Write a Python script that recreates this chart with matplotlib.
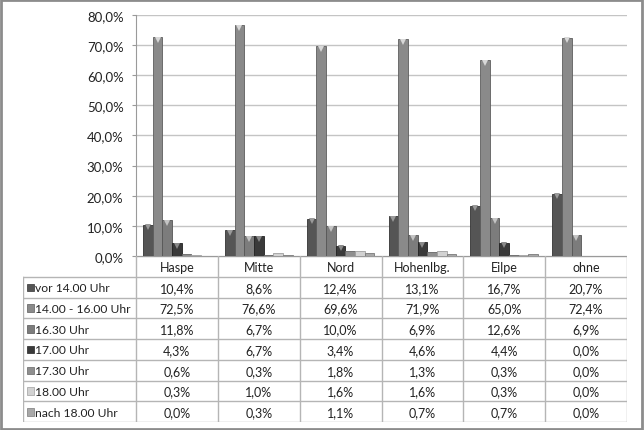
import matplotlib.pyplot as plt
import numpy as np
from matplotlib.patches import Rectangle

plt.rcParams['font.family'] = ['Lato', 'DejaVu Sans']

orte = ['Haspe', 'Mitte', 'Nord', 'Hohenlbg.', 'Eilpe', 'ohne']
zeiten = ['vor 14.00 Uhr', '14.00 - 16.00 Uhr', '16.30 Uhr', '17.00 Uhr',
          '17.30 Uhr', '18.00 Uhr', 'nach 18.00 Uhr']

vor_14 = [10.4, 8.6, 12.4, 13.1, 16.7, 20.7]
von_14_16 = [72.5, 76.6, 69.6, 71.9, 65.0, 72.4]
uhr_1630 = [11.8, 6.7, 10.0, 6.9, 12.6, 6.9]
uhr_1700 = [4.3, 6.7, 3.4, 4.6, 4.4, 0.0]
uhr_1730 = [0.6, 0.3, 1.8, 1.3, 0.3, 0.0]
uhr_1800 = [0.3, 1.0, 1.6, 1.6, 0.3, 0.0]
nach_18 = [0.0, 0.3, 1.1, 0.7, 0.7, 0.0]

werte = [vor_14, von_14_16, uhr_1630, uhr_1700, uhr_1730, uhr_1800, nach_18]
farben = ['#555555', '#8a8a8a', '#7c7c7c', '#3a3a3a', '#8f8f8f', '#d2d2d2', '#a8a8a8']
kanten = ['#333333', '#5e5e5e', '#555555', '#222222', '#666666', '#a0a0a0', '#7a7a7a']
spitzen = ['#9a9a9a', '#d8d8d8', '#c4c4c4', '#8a8a8a', '#cfcfcf', '#f0f0f0', '#dedede']
fs = 9


def fmt(v):
    return ('%.1f%%' % v).replace('.', ',')


W, H = 644, 431
fig = plt.figure(figsize=(W / 100, H / 100), dpi=100)

x_l, x_r = 136, 627
y_top, y_null = 15.7, 257
ax = fig.add_axes([x_l / W, 1 - y_null / H, (x_r - x_l) / W, (y_null - y_top) / H])

n = len(werte)
bw = 0.118
x = np.arange(len(orte))
for i, serie in enumerate(werte):
    pos = x + (i - (n - 1) / 2) * bw
    ax.bar(pos, serie, width=bw, color=farben[i], edgecolor=kanten[i],
           linewidth=0.6, zorder=3)
    sichtbar = [j for j, v in enumerate(serie) if v >= 3]
    ax.plot(pos[sichtbar], np.array(serie)[sichtbar] - 0.9, linestyle='none',
            marker='v', markersize=4.5, color=spitzen[i],
            markeredgewidth=0, zorder=4)

ax.set_xlim(-0.5, len(orte) - 0.5)
ax.set_ylim(0, 80)
ax.set_yticks(np.arange(0, 81, 10))
ax.set_yticklabels([fmt(v) for v in np.arange(0, 81, 10)], fontsize=fs + 0.5,
                   color='#222222')
ax.set_xticks([])
ax.yaxis.grid(True, color='#c4c4c4', linewidth=1)
ax.set_axisbelow(True)
for s in ['top', 'right', 'bottom']:
    ax.spines[s].set_visible(False)
ax.spines['left'].set_color('#9a9a9a')
ax.tick_params(axis='y', length=3, color='#9a9a9a', pad=6)

# data table below the plot
t_l, t_b = 23, 423
lab_w = (x_l - t_l) / ((x_r - x_l) / len(orte))
tax = fig.add_axes([t_l / W, 1 - t_b / H, (x_r - t_l) / W, (t_b - y_null) / H])
tax.set_xlim(-0.5 - lab_w, len(orte) - 0.5)
tax.set_ylim(n + 1, 0)
tax.axis('off')

lc = '#b5b5b5'
tax.plot([-0.5, len(orte) - 0.5], [0, 0], color='#9a9a9a', lw=1)
for r in range(1, n + 2):
    tax.plot([-0.5 - lab_w, len(orte) - 0.5], [r, r], color=lc, lw=1)
tax.plot([-0.5 - lab_w, -0.5 - lab_w], [1, n + 1], color=lc, lw=1)
for c in range(len(orte) + 1):
    tax.plot([c - 0.5, c - 0.5], [0, n + 1], color=lc, lw=1)

for j, ort in enumerate(orte):
    tax.text(j, 0.55, ort, ha='center', va='center', fontsize=fs, color='#222222')
for i, name in enumerate(zeiten):
    tax.add_patch(Rectangle((-0.5 - lab_w + 0.05, i + 1.33), 0.085, 0.36,
                            facecolor=farben[i], edgecolor=kanten[i], lw=0.5))
    tax.text(-0.5 - lab_w + 0.15, i + 1.53, name, ha='left', va='center',
             fontsize=fs - 0.3, color='#222222')
    for j, v in enumerate(werte[i]):
        tax.text(j, i + 1.53, fmt(v), ha='center', va='center', fontsize=fs,
                 color='#222222')

fig.patches.append(Rectangle((0.002, 0.003), 0.995, 0.994, transform=fig.transFigure,
                             fill=False, edgecolor='#8c8c8c', linewidth=2))

fig.savefig('out.png', dpi=100)
